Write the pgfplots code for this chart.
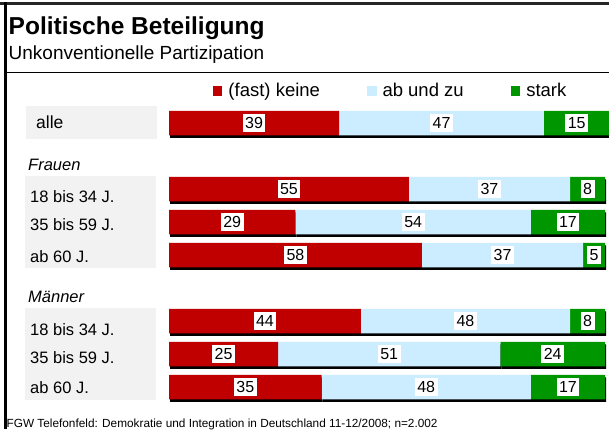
\documentclass[border=0pt]{standalone}
\usepackage{fontspec}
\setmainfont{Liberation Sans}
\usepackage{pgfplots}
\pgfplotsset{compat=1.18}
\usepackage{pgfplotstable}
\definecolor{cRed}{RGB}{192,0,0}
\definecolor{cBlue}{RGB}{204,236,255}
\definecolor{cGreen}{RGB}{0,150,0}
\definecolor{cGrey}{RGB}{242,242,242}

\pgfplotstableread{
y keine abundzu stark
0 39 47 15
2 55 37 8
3 29 54 17
4 58 37 5
6 44 48 8
7 25 51 24
8 35 48 17
}\data

\pgfplotstableread{
y x v
0 19.5 39
0 62.5 47
0 93.5 15
2 27.5 55
2 73.5 37
2 96 8
3 14.5 29
3 56 54
3 91.5 17
4 29 58
4 76.5 37
4 97.5 5
6 22 44
6 68 48
6 96 8
7 12.5 25
7 50.5 51
7 88 24
8 17.5 35
8 59 48
8 91.5 17
}\labels

\begin{document}
\begin{tikzpicture}[x=1pt,y=1pt]
\useasboundingbox (0,0) rectangle (609,429);
\fill[white] (0,0) rectangle (609,429);
% frame
\draw[line width=3pt, black!85] (0,425.5) -- (609,425.5);
\draw[line width=3pt, black] (5.5,0) -- (5.5,427);
\draw[line width=0.9pt] (5.5,356.3) -- (609,356.3);
% title
\node[anchor=base west, inner sep=0pt, font=\fontsize{24.5}{28}\selectfont\bfseries] at (8.5,394) {Politische Beteiligung};
\node[anchor=base west, inner sep=0pt, font=\fontsize{19}{22}\selectfont] at (8.5,369) {Unkonventionelle Partizipation};
% label backgrounds
\fill[cGrey] (26,290) rectangle (157,323);
\fill[cGrey] (25,161) rectangle (156,253);
\fill[cGrey] (25,29) rectangle (156,121);
% labels
\begin{scope}[every node/.style={anchor=base west, inner sep=0pt, font=\fontsize{16.5}{19}\selectfont}]
\node[font=\fontsize{17.5}{20}\selectfont] at (36,300) {alle};
\node[font=\fontsize{16.5}{19}\selectfont\itshape] at (28,259) {Frauen};
\node at (30,227) {18 bis 34 J.};
\node at (30,199) {35 bis 59 J.};
\node at (30,167) {ab 60 J.};
\node[font=\fontsize{16.5}{19}\selectfont\itshape] at (28,127) {Männer};
\node at (30,94) {18 bis 34 J.};
\node at (30,66) {35 bis 59 J.};
\node at (30,36) {ab 60 J.};
\end{scope}
\node[anchor=base west, inner sep=0pt, font=\fontsize{11.8}{13}\selectfont] at (6.5,2) {FGW Telefonfeld: Demokratie und Integration in Deutschland 11-12/2008; n=2.002};

\pgfplotsset{myaxis/.style={scale only axis, width=436pt, height=330pt,
  xmin=0, xmax=100, ymin=-1, ymax=9, y dir=reverse, hide axis, clip=false,
  anchor=south west}}
% shadows
\begin{axis}[myaxis, at={(170pt,6.5pt)}, xbar stacked, bar width=24.5pt]
\addplot[fill=black, draw=none] table[x=keine, y=y]{\data};
\addplot[fill=black, draw=none] table[x=abundzu, y=y]{\data};
\addplot[fill=black, draw=none] table[x=stark, y=y]{\data};
\end{axis}
% bars
\begin{axis}[myaxis, at={(169pt,9pt)}, xbar stacked, bar width=24.5pt,
  legend columns=3,
  legend style={at={(axis description cs:0.1009,0.997)}, anchor=west,
    draw=none, fill=none, inner sep=0pt, outer sep=0pt,
    nodes={inner sep=0pt},
    font=\fontsize{18.5}{21}\selectfont,
    /tikz/every odd column/.append style={column sep=6pt},
    /tikz/every even column/.append style={column sep=47pt}},
  legend cell align=left]
\addplot[fill=cRed, draw=none, legend image code/.code={\fill[cRed] (0pt,-4.75pt) rectangle (9.5pt,4.75pt);}] table[x=keine, y=y]{\data};
\addlegendentry{(fast) keine}
\addplot[fill=cBlue, draw=none, legend image code/.code={\fill[cBlue] (0pt,-4.75pt) rectangle (9.5pt,4.75pt);}] table[x=abundzu, y=y]{\data};
\addlegendentry{ab und zu}
\addplot[fill=cGreen, draw=none, legend image code/.code={\fill[cGreen] (0pt,-4.75pt) rectangle (9.5pt,4.75pt);}] table[x=stark, y=y]{\data};
\addlegendentry{stark}
\end{axis}
% value labels
\begin{axis}[myaxis, at={(169pt,9pt)}]
\addplot[draw=none, nodes near coords, point meta=explicit symbolic,
  nodes near coords style={anchor=center, fill=white, text=black,
    inner xsep=2.5pt, inner ysep=3.5pt, font=\fontsize{16}{18}\selectfont}]
  table[x=x, y=y, meta=v]{\labels};
\end{axis}
\end{tikzpicture}
\end{document}
